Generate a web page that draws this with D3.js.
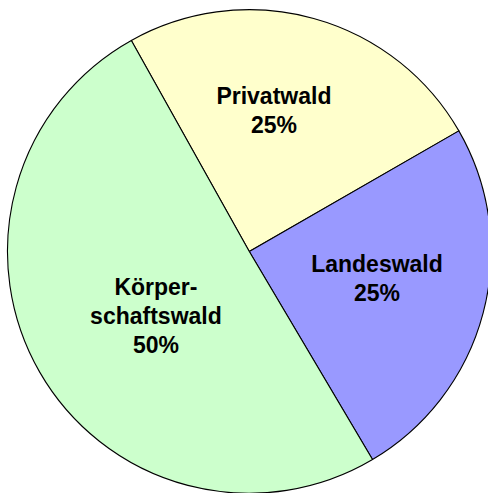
<!DOCTYPE html>
<html>
<head>
<meta charset="utf-8">
<script src="https://cdn.jsdelivr.net/npm/d3@7"></script>
<style>
  html, body { margin: 0; padding: 0; background: #ffffff; }
  svg { display: block; }
</style>
</head>
<body>
<svg id="chart" width="488" height="493"></svg>
<script>
// Data
const categories = ["Privatwald", "Landeswald", "Körperschaftswald"];
const labelLines = [["Privatwald"], ["Landeswald"], ["Körper-", "schaftswald"]];
const values = [24.8, 24.8, 50.4];
const colors = ["#FFFFCC", "#9999FF", "#CCFFCC"];

// Layout
const width = 488, height = 493;
const cx = 249.3, cy = 251.5, radius = 241.8;
const startDeg = -29.2;
// label block anchor: [distance from center, angle in degrees clockwise from 12 o'clock]
const labelAnchors = [[143.1, 9.9], [130.4, 101.7], [113.3, 235.5]];
const fontSize = 23, lineHeight = 29;

const svg = d3.select("#chart");
const g = svg.append("g").attr("transform", `translate(${cx},${cy})`);

const pie = d3.pie()
  .sort(null)
  .value(d => d)
  .startAngle(startDeg * Math.PI / 180)
  .endAngle((startDeg + 360) * Math.PI / 180);

const arcs = pie(values);
const arc = d3.arc().innerRadius(0).outerRadius(radius);

g.selectAll("path.slice")
  .data(arcs)
  .join("path")
  .attr("class", "slice")
  .attr("d", arc)
  .attr("fill", (d, i) => colors[i])
  .attr("stroke", "#000")
  .attr("stroke-width", 1.1)
  .attr("stroke-linejoin", "round");

const total = d3.sum(values);
arcs.forEach((d, i) => {
  const [dist, ang] = labelAnchors[i];
  const a = ang * Math.PI / 180;
  const x = dist * Math.sin(a);
  const y = -dist * Math.cos(a);
  const lines = labelLines[i].concat([Math.round(d.value / total * 100) + "%"]);
  const n = lines.length;
  const t = g.append("text")
    .attr("text-anchor", "middle")
    .attr("font-family", "Arial, 'Liberation Sans', sans-serif")
    .attr("font-weight", "bold")
    .attr("font-size", fontSize)
    .attr("fill", "#000");
  lines.forEach((ln, j) => {
    t.append("tspan")
      .attr("x", x)
      .attr("y", y + (j - (n - 1) / 2) * lineHeight + fontSize * 0.36)
      .text(ln);
  });
});
</script>
</body>
</html>
